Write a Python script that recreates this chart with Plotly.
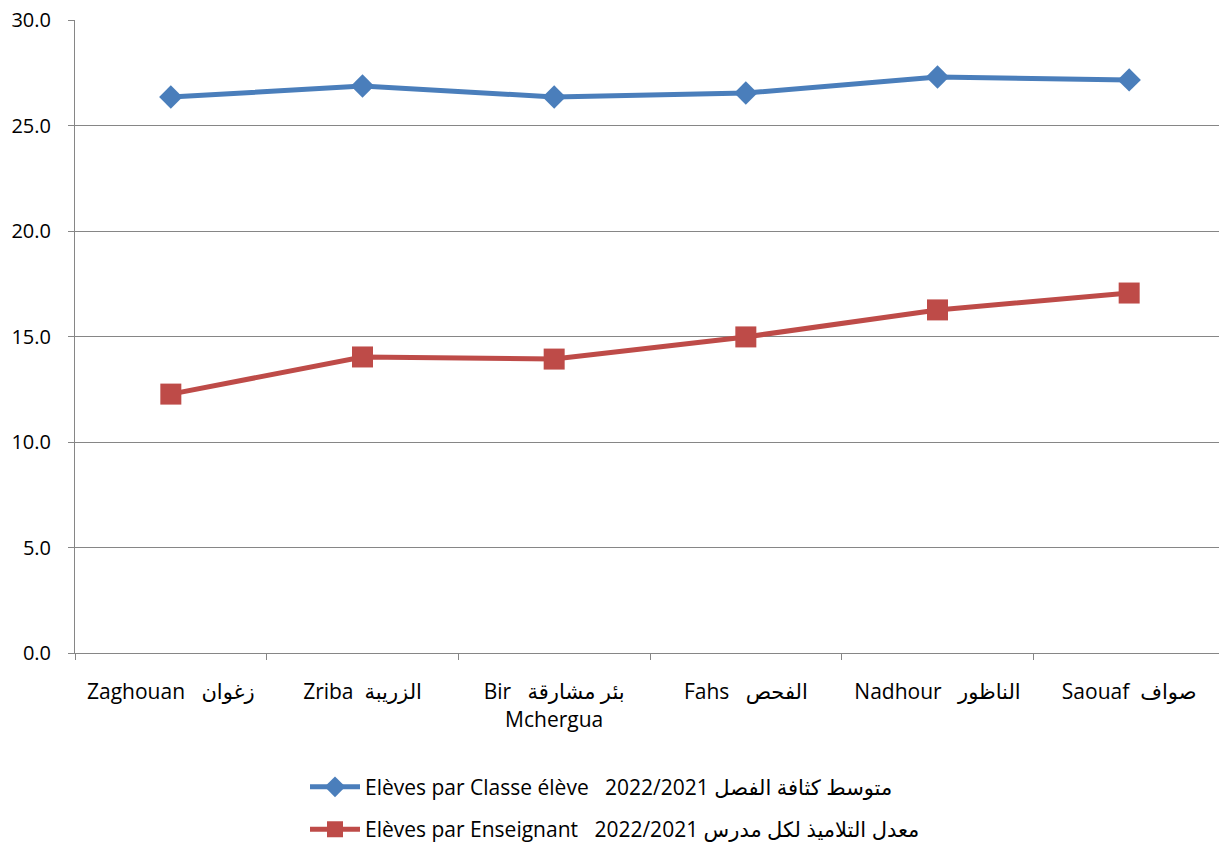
import plotly.graph_objects as go

categories = [
    "Zaghouan \u00a0\u00a0زغوان",
    "Zriba \u00a0الزريبة",
    "Bir \u00a0\u00a0بئر مشارقة<br>Mchergua",
    "Fahs \u00a0\u00a0الفحص",
    "Nadhour \u00a0\u00a0الناظور",
    "Saouaf \u00a0صواف",
]
eleves_par_classe = [26.35, 26.87, 26.35, 26.54, 27.30, 27.16]
eleves_par_enseignant = [12.27, 14.03, 13.93, 14.98, 16.26, 17.06]
series_names = [
    "Elèves par Classe élève \u00a0\u00a02022/2021 متوسط كثافة الفصل",
    "Elèves par Enseignant \u00a0\u00a02022/2021 معدل التلاميذ لكل مدرس",
]
y_ticks = [0, 5, 10, 15, 20, 25, 30]

FONT = "'Open Sans', 'DejaVu Sans', sans-serif"

fig = go.Figure()
fig.add_trace(go.Scatter(
    x=categories, y=eleves_par_classe, name=series_names[0],
    mode="lines+markers", legend="legend",
    line=dict(color="#4A7EBB", width=5),
    marker=dict(symbol="diamond", size=18, color="#4A7EBB"),
))
fig.add_trace(go.Scatter(
    x=categories, y=eleves_par_enseignant, name=series_names[1],
    mode="lines+markers", legend="legend2",
    line=dict(color="#BE4B48", width=5),
    marker=dict(symbol="square", size=21, color="#BE4B48"),
))

legend_common = dict(
    orientation="v", xanchor="left", x=0.200, yanchor="middle",
    font=dict(size=21), itemwidth=50, bgcolor="rgba(0,0,0,0)",
)

fig.update_layout(
    width=1219, height=838,
    margin=dict(l=67, r=2, t=12, b=193, autoexpand=False),
    paper_bgcolor="white", plot_bgcolor="white",
    font=dict(family=FONT, size=20, color="black"),
    showlegend=True,
    legend=dict(legend_common, y=-0.212),
    legend2=dict(legend_common, y=-0.279),
)
fig.update_xaxes(
    type="category", range=[-0.5, len(categories) - 0.5],
    tickson="boundaries", tickangle=0,
    ticks="outside", ticklen=6, tickcolor="#868686",
    showline=True, linecolor="#868686", linewidth=1,
    showgrid=False, tickfont=dict(size=21), ticklabelstandoff=20,
)
fig.update_yaxes(
    range=[0, 30], tickvals=y_ticks, tickformat=".1f",
    ticks="outside", ticklen=6, tickcolor="#868686",
    showline=True, linecolor="#868686", linewidth=1,
    showgrid=True, gridcolor="#868686", gridwidth=1,
    zeroline=False, tickfont=dict(size=20),
    ticklabelstandoff=13, ticklabeloverflow="allow",
)

fig.write_html("out.html")
